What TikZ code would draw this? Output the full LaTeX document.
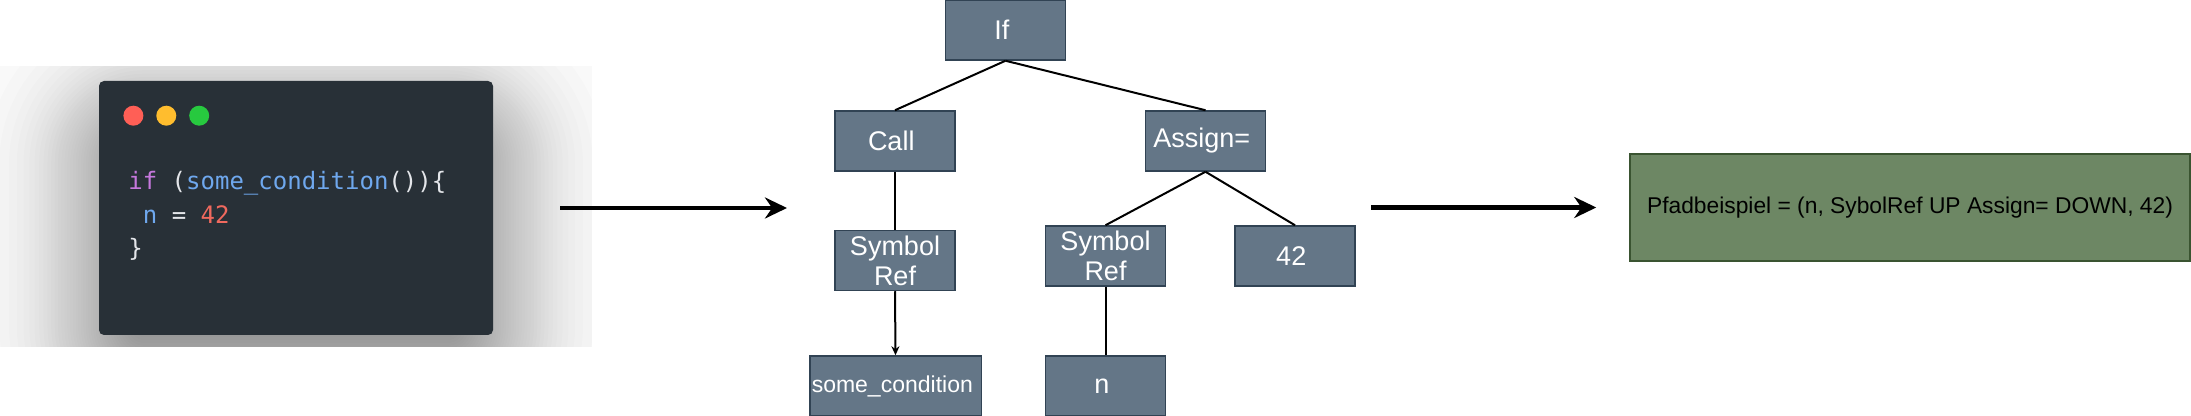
\documentclass[tikz,border=0pt]{standalone}
\usepackage{fontspec}
\setmainfont{Liberation Sans}
\newfontfamily\codefont{DejaVu Sans Mono}
\usetikzlibrary{arrows.meta}
\definecolor{slatefill}{HTML}{647687}
\definecolor{slateline}{HTML}{314354}
\definecolor{sagefill}{HTML}{6D8764}
\definecolor{sageline}{HTML}{3A5431}
\definecolor{codebg}{HTML}{283037}
\definecolor{codeplain}{HTML}{E4E6EA}
\definecolor{codekey}{HTML}{C678DD}
\definecolor{codename}{HTML}{6FA8EE}
\definecolor{codenum}{HTML}{F0695E}
\definecolor{dotred}{HTML}{FF5F56}
\definecolor{dotyellow}{HTML}{FFBD2E}
\definecolor{dotgreen}{HTML}{27C93F}

\begin{document}
\begin{tikzpicture}
  [
    x                       = 0.5pt,
    y                       = -0.5pt,
    astnode/.style          = { draw=slateline, fill=slatefill, text=white, line width=0.75pt,
                                minimum width=60pt, minimum height=30pt, inner sep=1pt,
                                align=center, font=\fontsize{13.5}{15}\selectfont },
    pathbox/.style          = { draw=sageline, fill=sagefill, line width=0.75pt,
                                minimum width=280pt, minimum height=53.5pt,
                                font=\fontsize{11.4}{14}\selectfont },
    codepanel/.style        = { fill=codebg, rounded corners=2.5pt,
                                minimum width=197pt, minimum height=127pt },
    codeline/.style         = { anchor=base west, inner sep=0pt, text=codeplain,
                                font=\codefont\fontsize{12}{15}\selectfont },
    shadowlayer/.style      = { fill=black, opacity=0.0115 },
    treeedge/.style         = { draw, line width=1pt },
    bigarrow/.style         = { draw, line width=2.25pt, -{Stealth[length=11pt, width=10.5pt]} }
  ]
  \useasboundingbox (0,0) rectangle (2191,416);

  \begin{scope}
    \clip (0,67) rectangle (592,347);
    \foreach \k in {16,...,60} {
      \pgfmathsetmacro\e{35.8*ln(((\k-0.5)/60)/(1-(\k-0.5)/60))}
      \pgfmathsetmacro\rad{max(2,(\e+45)*0.5)}
      \fill[shadowlayer, rounded corners=\rad pt]
        ({99-(\e)},{118-(\e)}) rectangle ({493+\e},{372+\e});
    }
  \end{scope}
  \node (code) [codepanel] at (296,208) {};
  \fill[dotred]    (133.4,115.7) circle (5pt);
  \fill[dotyellow] (166.3,115.7) circle (5pt);
  \fill[dotgreen]  (199.2,115.7) circle (5pt);
  \node (lineif)     [codeline] at (128,190)
    { \textcolor{codekey}{if} (\textcolor{codename}{some\_condition}())\{ };
  \node (lineassign) [codeline] at (142.5,223.3)
    { \textcolor{codename}{n} = \textcolor{codenum}{42} };
  \node (lineclose)  [codeline] at (128,256.6) { \} };

  \coordinate (readstart) at (560,208);
  \coordinate (readend)   at (787,208);
  \draw[bigarrow] (readstart) -- (readend);

  \node (ifstmt)    [astnode] at (1005.5,30)  { If };
  \node (call)      [astnode] at (895,141)    { Call };
  \node (assign)    [astnode] at (1205.5,141) { Assign= };
  \node (symcall)   [astnode] at (895,260.5)  { Symbol\\Ref };
  \node (symassign) [astnode] at (1105.5,256) { Symbol\\Ref };
  \node (fortytwo)  [astnode] at (1295,256)   { 42 };
  \node (somecond)  [astnode, minimum width=85pt, font=\fontsize{11.5}{14}\selectfont]
                            at (895.5,386)    { some\_condition };
  \node (nname)     [astnode] at (1105.5,386) { n };

  \draw[treeedge] (ifstmt.south) -- (call.north);
  \draw[treeedge] (ifstmt.south) -- (assign.north);
  \draw[treeedge] (call.south) -- (symcall.north);
  \draw[treeedge, -{Stealth[length=4.5pt, width=4pt]}] (symcall.south) -- (somecond.north);
  \draw[treeedge] (assign.south) -- (symassign.north);
  \draw[treeedge] (assign.south) -- (fortytwo.north);
  \draw[treeedge] (symassign.south) -- (nname.north);

  \node (pathex) [pathbox] at (1910,207.5) { Pfadbeispiel = (n, SybolRef UP Assign= DOWN, 42) };
  \coordinate (pathstart) at (1371,207.5);
  \draw[bigarrow, shorten >=16.5pt] (pathstart) -- (pathex);
\end{tikzpicture}
\end{document}
